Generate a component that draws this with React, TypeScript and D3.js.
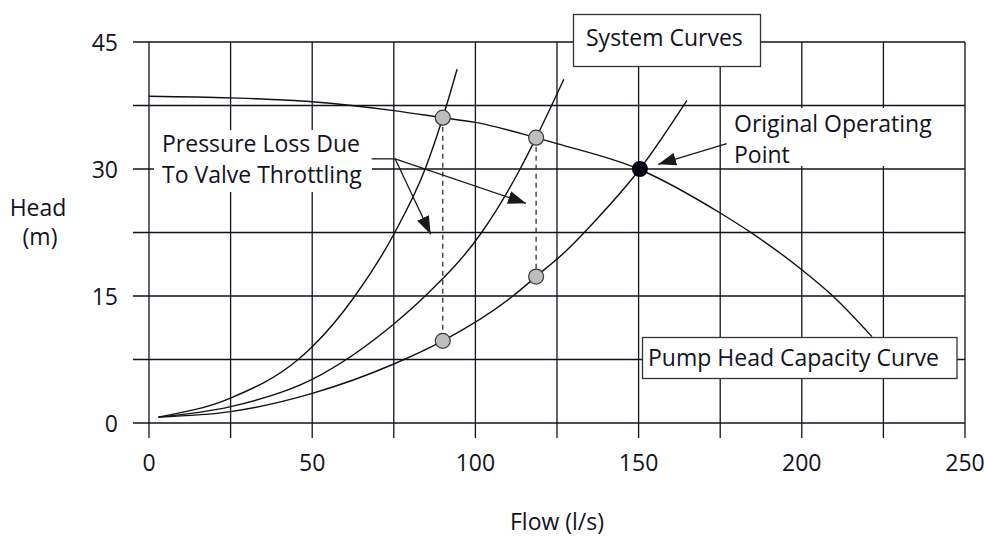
import * as d3 from "d3";
import { useEffect, useRef } from "react";

// axis ticks and grid
const flowTicks = [0, 50, 100, 150, 200, 250];
const headTicks = [0, 15, 30, 45];
const flowGrid = [0, 25, 50, 75, 100, 125, 150, 175, 200, 225, 250];
const headGrid = [0, 7.5, 15, 22.5, 30, 37.5, 45];

// pump head-capacity curve (l/s, m)
const pumpFlow = [0, 25, 50, 75, 90, 100, 118.6, 125, 150, 175, 184, 200, 209.5, 221.5];
const pumpHead = [38.6, 38.4, 37.95, 36.9, 36.06, 35.5, 33.7, 33.0, 30, 24.8, 22.6, 18.1, 15, 10.2];

// system curves, steepest (most throttled) first
const sysAFlow = [2.9, 25, 45.7, 50, 63.1, 75.3, 84.6, 90, 94.4];
const sysAHead = [0.7, 2.95, 7.5, 9.0, 15, 22.5, 30, 36.06, 41.8];
const sysBFlow = [2.9, 25, 50, 75, 84.6, 101.9, 113.7, 118.6, 127.1];
const sysBHead = [0.7, 1.93, 5.16, 11.7, 15, 22.5, 30, 33.7, 40.6];
const sysCFlow = [2.9, 25, 50, 75, 90, 111.5, 118.6, 128, 137, 150.4, 164.8];
const sysCHead = [0.7, 1.34, 3.5, 6.97, 9.7, 15, 17.3, 20.4, 24.0, 30, 38.1];

// throttled operating points and matching points on the original system curve
const throttledFlow = [90, 118.6];
const throttledHead = [36.06, 33.7];
const lowerHead = [9.7, 17.3];
const operatingPoint = { flow: 150.4, head: 30 };

const W = 984;
const H = 538;
const INK = "#12121e";
const FONT = "'Open Sans', sans-serif";

export default function App() {
  const svgRef = useRef<SVGSVGElement>(null);

  useEffect(() => {
    if (!svgRef.current) return;
    const svg = d3.select(svgRef.current);
    svg.selectAll("*").remove();

    const x = d3.scaleLinear().domain([0, 250]).range([149, 965]);
    const y = d3.scaleLinear().domain([0, 45]).range([423, 42]);

    const defs = svg.append("defs");
    defs
      .append("marker")
      .attr("id", "head")
      .attr("markerUnits", "userSpaceOnUse")
      .attr("markerWidth", 20)
      .attr("markerHeight", 14)
      .attr("viewBox", "0 -7 20 14")
      .attr("refX", 18)
      .attr("refY", 0)
      .attr("orient", "auto")
      .append("path")
      .attr("d", "M0,-6.5L18,0L0,6.5Z")
      .attr("fill", "#1a1a1a");

    const g = svg.append("g");

    // grid, with ticks sticking out left and below
    g.selectAll("line.v")
      .data(flowGrid)
      .enter()
      .append("line")
      .attr("x1", (d) => x(d))
      .attr("x2", (d) => x(d))
      .attr("y1", y(45))
      .attr("y2", y(0) + 15)
      .attr("stroke", INK)
      .attr("stroke-width", 1.3);

    g.selectAll("line.h")
      .data(headGrid)
      .enter()
      .append("line")
      .attr("x1", x(0) - 16)
      .attr("x2", x(250))
      .attr("y1", (d) => y(d))
      .attr("y2", (d) => y(d))
      .attr("stroke", INK)
      .attr("stroke-width", 1.3);

    // tick labels
    g.selectAll("text.xt")
      .data(flowTicks)
      .enter()
      .append("text")
      .attr("x", (d) => x(d))
      .attr("y", y(0) + 40)
      .attr("dy", "0.35em")
      .attr("text-anchor", "middle")
      .text((d) => d);

    g.selectAll("text.yt")
      .data(headTicks)
      .enter()
      .append("text")
      .attr("x", x(0) - 31)
      .attr("y", (d) => y(d) + 1)
      .attr("dy", "0.35em")
      .attr("text-anchor", "end")
      .text((d) => d);

    // axis titles
    g.append("text")
      .attr("x", 38)
      .attr("y", 208)
      .attr("dy", "0.35em")
      .attr("text-anchor", "middle")
      .text("Head");
    g.append("text")
      .attr("x", 40)
      .attr("y", 237)
      .attr("dy", "0.35em")
      .attr("text-anchor", "middle")
      .text("(m)");
    g.append("text")
      .attr("x", (x(0) + x(250)) / 2)
      .attr("y", 522)
      .attr("dy", "0.35em")
      .attr("text-anchor", "middle")
      .text("Flow (l/s)");

    // white backing behind the free-floating labels
    g.append("rect")
      .attr("x", 154)
      .attr("y", 130)
      .attr("width", 218)
      .attr("height", 62)
      .attr("fill", "#fff");
    g.append("rect")
      .attr("x", 727)
      .attr("y", 108)
      .attr("width", 215)
      .attr("height", 58)
      .attr("fill", "#fff");

    const line = d3
      .line<[number, number]>()
      .x((d) => x(d[0]))
      .y((d) => y(d[1]))
      .curve(d3.curveMonotoneX);

    const curves: [number[], number[]][] = [
      [pumpFlow, pumpHead],
      [sysAFlow, sysAHead],
      [sysBFlow, sysBHead],
      [sysCFlow, sysCHead],
    ];
    g.selectAll("path.curve")
      .data(curves)
      .enter()
      .append("path")
      .attr("d", ([fs, hs]) => line(fs.map((f, i) => [f, hs[i]] as [number, number])))
      .attr("fill", "none")
      .attr("stroke", "#111")
      .attr("stroke-width", 1.4);

    // dashed drops = pressure lost across the valve
    g.selectAll("line.drop")
      .data(throttledFlow)
      .enter()
      .append("line")
      .attr("x1", (d) => x(d))
      .attr("x2", (d) => x(d))
      .attr("y1", (_, i) => y(throttledHead[i]))
      .attr("y2", (_, i) => y(lowerHead[i]))
      .attr("stroke", "#333")
      .attr("stroke-width", 1.3)
      .attr("stroke-dasharray", "5,4");

    // annotation leaders
    const ax0 = 68.2,
      ax1 = 75.4,
      ay = 31.2;
    g.append("line")
      .attr("x1", x(ax0))
      .attr("x2", x(ax1))
      .attr("y1", y(ay))
      .attr("y2", y(ay))
      .attr("stroke", "#1a1a1a")
      .attr("stroke-width", 1.3);
    const tips: [number, number][] = [
      [86.3, 22.3],
      [115.5, 25.95],
    ];
    g.selectAll("line.lead")
      .data(tips)
      .enter()
      .append("line")
      .attr("x1", x(ax1))
      .attr("y1", y(ay))
      .attr("x2", (d) => x(d[0]))
      .attr("y2", (d) => y(d[1]))
      .attr("stroke", "#1a1a1a")
      .attr("stroke-width", 1.3)
      .attr("marker-end", "url(#head)");
    g.append("line")
      .attr("x1", x(177))
      .attr("y1", y(33.0))
      .attr("x2", x(156))
      .attr("y2", y(30.55))
      .attr("stroke", "#1a1a1a")
      .attr("stroke-width", 1.3)
      .attr("marker-end", "url(#head)");

    // points
    const pts = [
      ...throttledFlow.map((f, i) => [f, throttledHead[i]]),
      ...throttledFlow.map((f, i) => [f, lowerHead[i]]),
    ];
    g.selectAll("circle.pt")
      .data(pts)
      .enter()
      .append("circle")
      .attr("cx", (d) => x(d[0]))
      .attr("cy", (d) => y(d[1]))
      .attr("r", 7.5)
      .attr("fill", "#bdbdbd")
      .attr("stroke", "#3a3a3a")
      .attr("stroke-width", 1.2);
    g.append("circle")
      .attr("cx", x(operatingPoint.flow))
      .attr("cy", y(operatingPoint.head))
      .attr("r", 8)
      .attr("fill", "#000010");

    // boxed labels
    g.append("rect")
      .attr("x", 573.5)
      .attr("y", 14.5)
      .attr("width", 187)
      .attr("height", 52)
      .attr("fill", "#fff")
      .attr("stroke", "#333")
      .attr("stroke-width", 1.3);
    g.append("text")
      .attr("x", 586)
      .attr("y", 38)
      .attr("dy", "0.35em")
      .text("System Curves");

    g.append("rect")
      .attr("x", 642.5)
      .attr("y", 337.5)
      .attr("width", 314.5)
      .attr("height", 41)
      .attr("fill", "#fff")
      .attr("stroke", "#333")
      .attr("stroke-width", 1.3);
    g.append("text")
      .attr("x", 648)
      .attr("y", 358)
      .attr("dy", "0.35em")
      .text("Pump Head Capacity Curve");

    const multi = (lines: string[], x0: number, y0: number, step: number) => {
      lines.forEach((t, i) =>
        g.append("text").attr("x", x0).attr("y", y0 + i * step).attr("dy", "0.35em").text(t)
      );
    };
    multi(["Pressure Loss Due", "To Valve Throttling"], 162, 144, 31);
    multi(["Original Operating", "Point"], 734, 124, 31);

    g.selectAll("text").attr("font-family", FONT).attr("font-size", 23).attr("fill", INK);
  }, []);

  return (
    <div style={{ position: "absolute", left: 0, top: 0 }}>
      <svg ref={svgRef} width={W} height={H} style={{ display: "block", background: "#fff" }} />
    </div>
  );
}
